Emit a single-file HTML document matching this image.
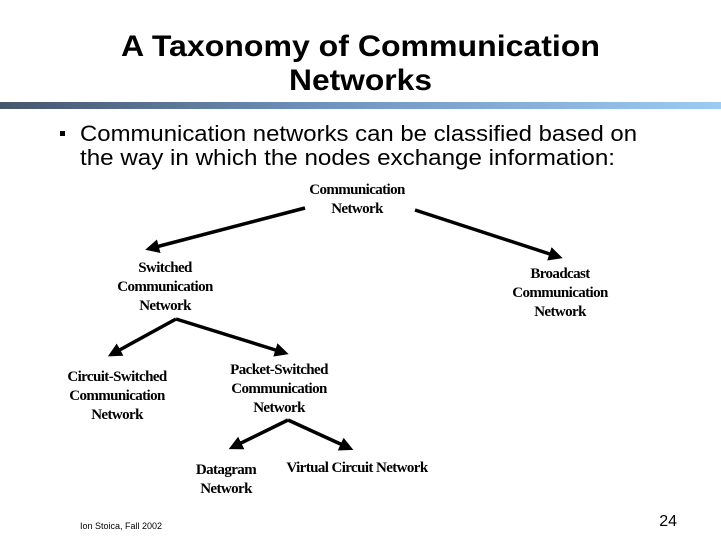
<!DOCTYPE html>
<html><head><meta charset="utf-8"><style>
html,body{margin:0;padding:0;background:#fff;width:721px;height:541px;overflow:hidden}
svg{display:block}
.t{font-family:"Liberation Sans",sans-serif;font-weight:bold;font-size:30px;fill:#000}
.b{font-family:"Liberation Sans",sans-serif;font-size:22px;fill:#000}
.d{font-family:"Liberation Serif",serif;font-size:15px;font-weight:bold;fill:#000;letter-spacing:-0.6px}
</style></head><body>
<svg width="721" height="541" viewBox="0 0 721 541">
<defs>
<linearGradient id="g" x1="0" x2="1"><stop offset="0" stop-color="#46566c"/><stop offset="0.45" stop-color="#6f93bf"/><stop offset="1" stop-color="#9ccbf4"/></linearGradient>
<marker id="a" markerWidth="4" markerHeight="4" refX="2" refY="2" orient="auto" markerUnits="strokeWidth"><path d="M0,0 L4,2 L0,4 Z" fill="#000"/></marker>
</defs>
<text class="t" x="121" y="56" textLength="479" lengthAdjust="spacingAndGlyphs">A Taxonomy of Communication</text>
<text class="t" x="289" y="90" textLength="143" lengthAdjust="spacingAndGlyphs">Networks</text>
<rect x="0" y="102" width="721" height="7" fill="url(#g)"/>
<rect x="60" y="131" width="5" height="5" fill="#000"/>
<text class="b" x="80" y="141" textLength="557" lengthAdjust="spacingAndGlyphs">Communication networks can be classified based on</text>
<text class="b" x="80" y="165" textLength="535" lengthAdjust="spacingAndGlyphs">the way in which the nodes exchange information:</text>
<g stroke="#000" stroke-width="3.5" fill="none" marker-end="url(#a)">
<line x1="305" y1="208" x2="152" y2="248"/>
<line x1="415" y1="210" x2="556" y2="256"/>
<line x1="176" y1="319" x2="114" y2="353"/>
<line x1="176" y1="319" x2="282" y2="352"/>
<line x1="288" y1="420" x2="235" y2="446"/>
<line x1="288" y1="420" x2="347" y2="447"/>
</g>
<g class="d" text-anchor="middle">
<text x="357" y="194">Communication</text><text x="357" y="213">Network</text>
<text x="165" y="272">Switched</text><text x="165" y="291">Communication</text><text x="165" y="310">Network</text>
<text x="560" y="278">Broadcast</text><text x="560" y="297">Communication</text><text x="560" y="316">Network</text>
<text x="117" y="381">Circuit-Switched</text><text x="117" y="400">Communication</text><text x="117" y="419">Network</text>
<text x="279" y="374">Packet-Switched</text><text x="279" y="393">Communication</text><text x="279" y="412">Network</text>
<text x="226" y="474">Datagram</text><text x="226" y="493">Network</text>
<text x="357" y="472">Virtual Circuit Network</text>
</g>
<text x="80" y="529" font-family="Liberation Sans,sans-serif" font-size="9" fill="#000">Ion Stoica, Fall 2002</text>
<text x="677" y="526" font-family="Liberation Sans,sans-serif" font-size="16" fill="#000" text-anchor="end">24</text>
</svg>
</body></html>
